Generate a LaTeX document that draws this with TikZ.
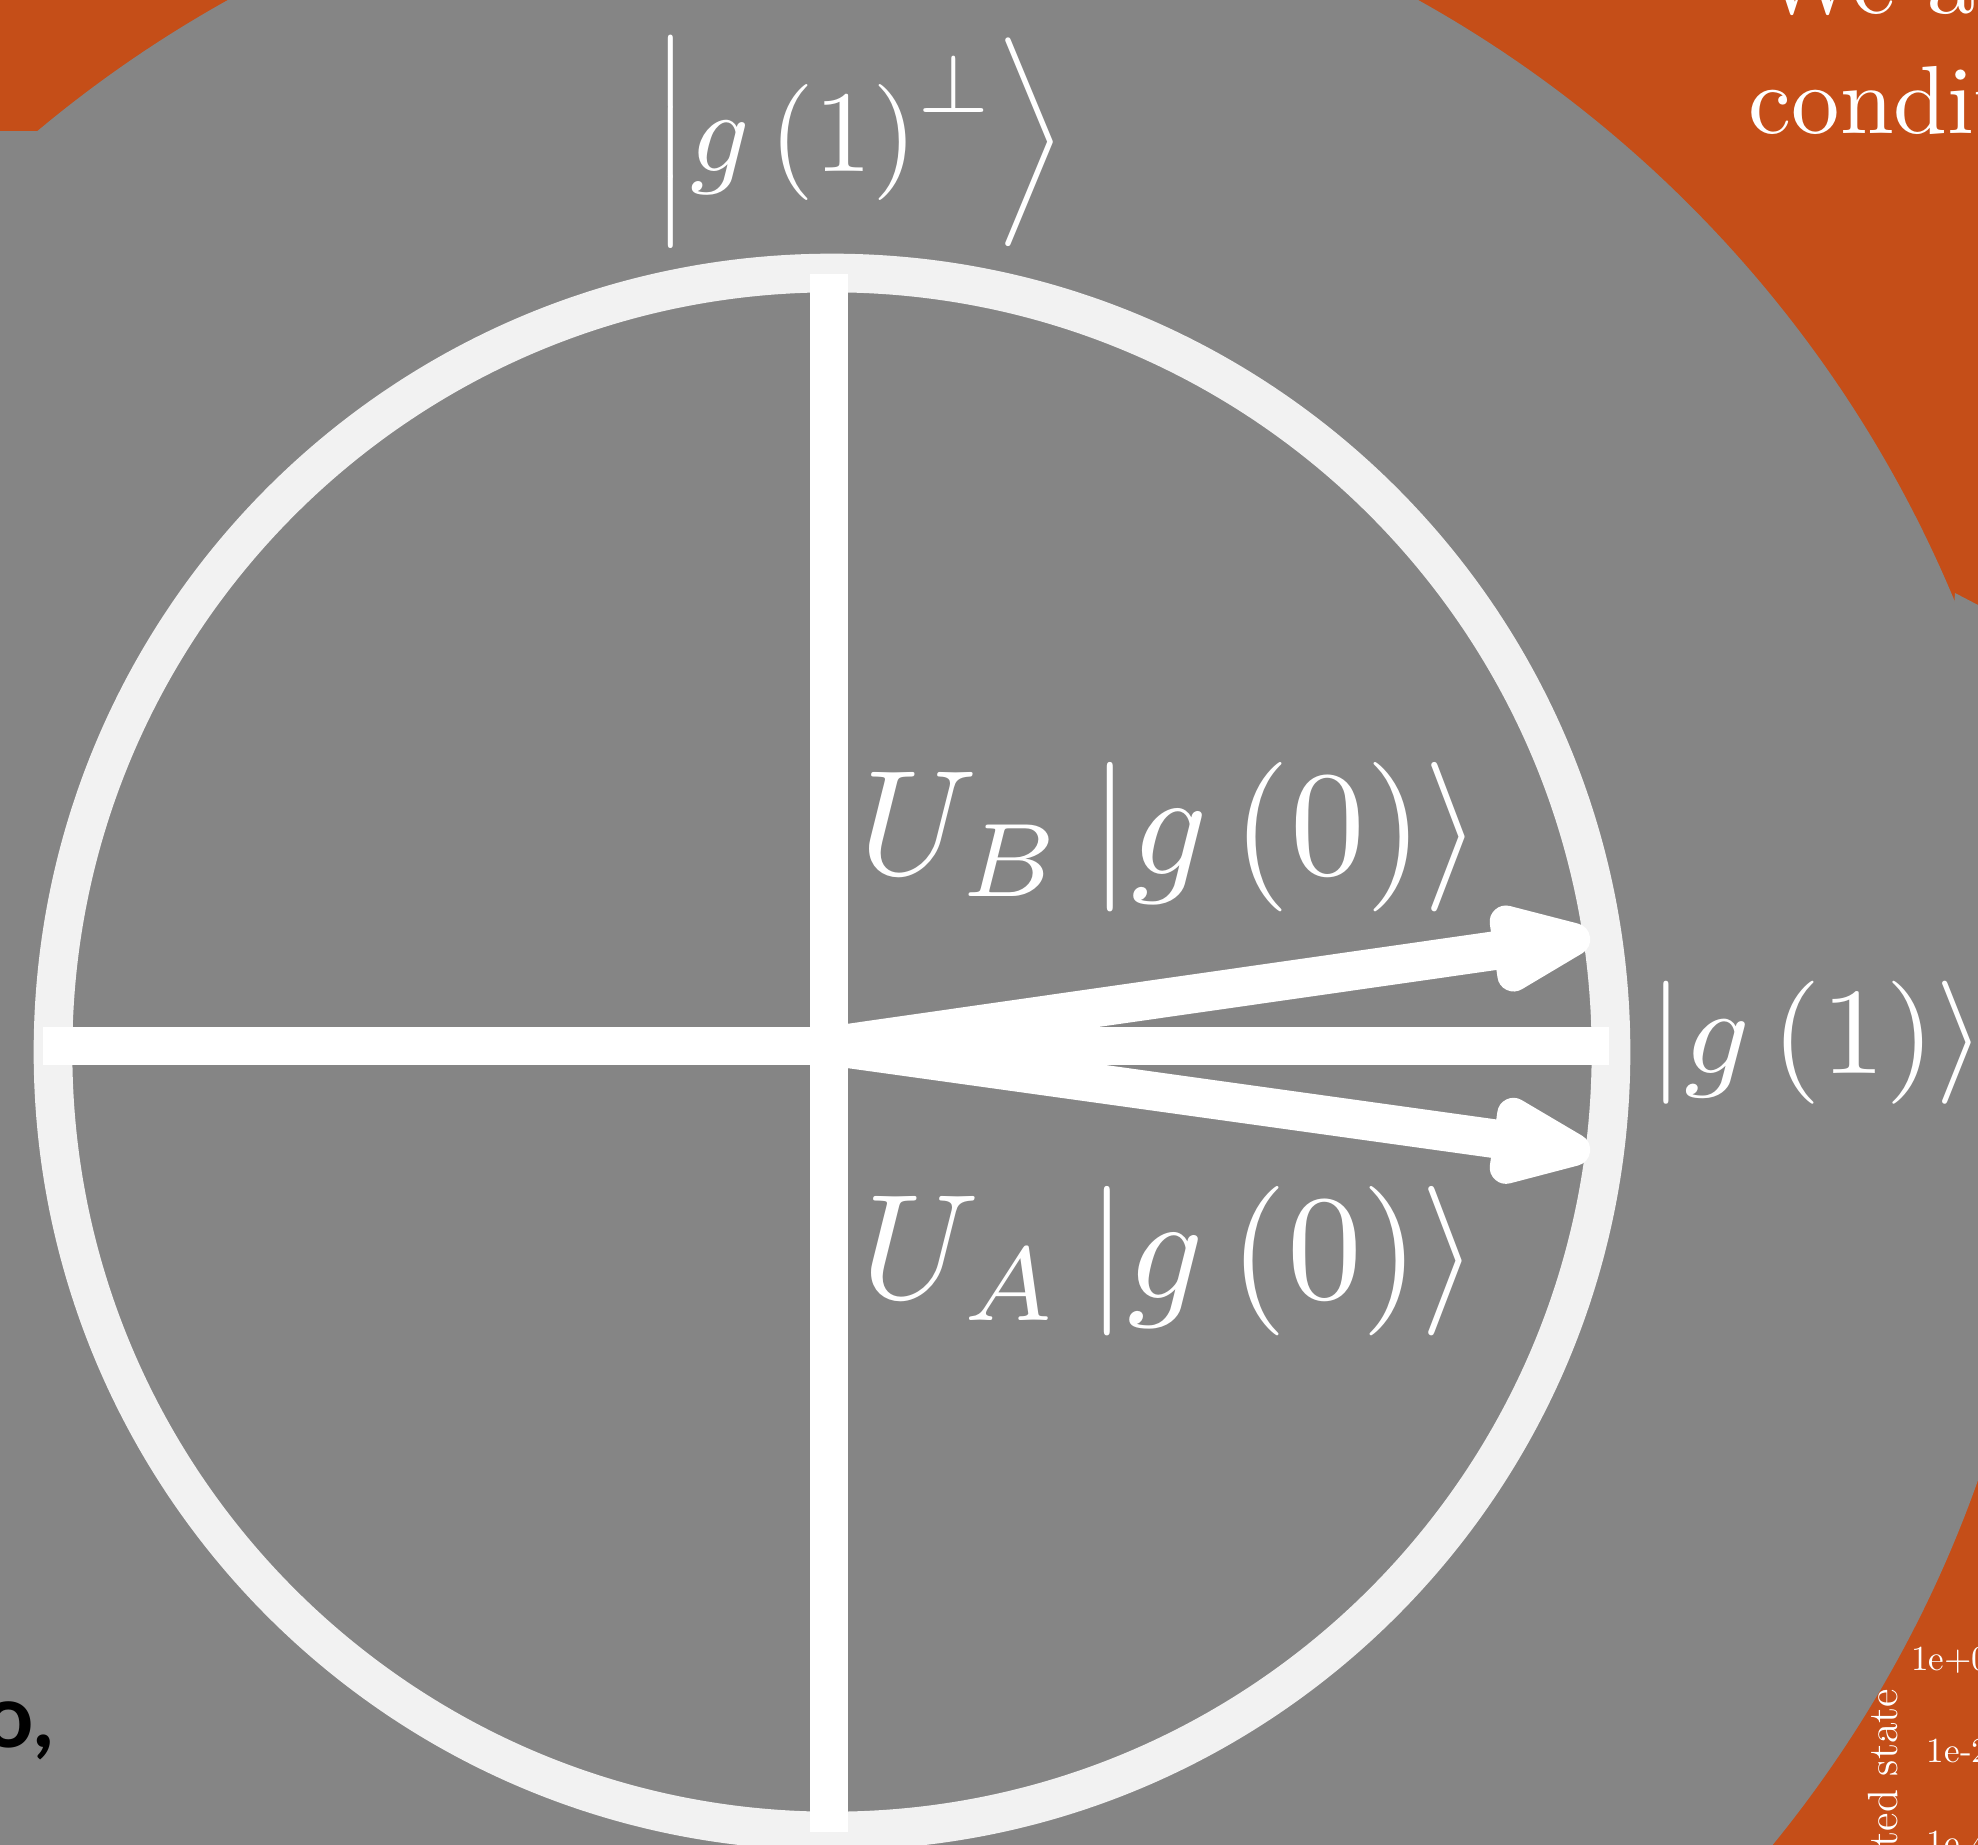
\documentclass[tikz,border=0pt]{standalone}
\usepackage{fontspec}
\newfontfamily\heavyfont{Lato}
\usetikzlibrary{arrows.meta}

\definecolor{posterorange}{HTML}{C54E18}
\definecolor{postergrey}{HTML}{858585}
\definecolor{ringgrey}{HTML}{F2F2F2}

\begin{document}
\begin{tikzpicture}[
  x=0.01cm, y=0.01cm,
  ring/.style={draw=ringgrey, line width=11pt},
  axis/.style={draw=white, line width=11pt},
  state/.style={-{Triangle[length=37pt, width=26pt, round]}, draw=white, line width=11pt},
  ket/.style={text=white, inner sep=0pt},
  poster/.style={text=white, inner sep=0pt, anchor=base west},
  tick/.style={text=white, inner sep=0pt, anchor=base east, font=\fontsize{10}{12}\selectfont}
]
\useasboundingbox (0,0) rectangle (1978,-1845);
\clip (0,0) rectangle (1978,-1845);

% backdrop of the poster
\fill[posterorange] (0,0) rectangle (1978,-1845);
\fill[postergrey] (823,-1071) circle (1225);
\fill[postergrey] (0,-131) rectangle (40,-400);
\fill[postergrey] (1955,-593) -- (1978,-605) -- (1978,-800) -- (1940,-800) -- cycle;

\node[poster] (weline) at (1760,-13) {\scalebox{2.75}{We as}};
\node[poster] (condline) at (1748,-133) {\scalebox{2.75}{condit}};

\node[text=white, inner sep=0pt, anchor=base east, rotate=90,
  font=\fontsize{12}{14}\selectfont] (ylabel) at (1897,-1688) {ted state};
\node[tick] (tick0) at (1990,-1670) {1e+0};
\node[tick] (tick2) at (1990,-1762) {1e-2};
\node[tick] (tick4) at (1990,-1854) {1e-4};

\node[text=black, inner sep=0pt, anchor=base east,
  font=\heavyfont\bfseries\fontsize{25}{30}\selectfont] (aside) at (55,-1747) {o,};

% circle and axes
\coordinate (O) at (829,-1046);
\coordinate (ringc) at (832,-1052);
\coordinate (west) at (43,-1046);
\coordinate (east) at (1609,-1046);
\coordinate (north) at (829,-274);
\coordinate (south) at (829,-1832);
\draw[ring] (ringc) circle (779);
\draw[axis] (west) -- (east);
\draw[axis] (north) -- (south);

% rotated states
\coordinate (ubtip) at (1590,-937);
\coordinate (uatip) at (1590,-1152);
\draw[state] (O) -- (ubtip);
\draw[state] (O) -- (uatip);

\node[ket] (perp) at (859,-142)
  {\scalebox{3.3}{$\Bigl|g\left(1\right)^{\perp}\Bigr\rangle$}};
\node[ket, anchor=base west] (one) at (1648,-1073)
  {\scalebox{3.65}[3.5]{$\left|g\left(1\right)\right\rangle$}};
\node[ket, anchor=base west] (ub) at (859,-874)
  {\scalebox{4.25}{$U_B\left|g\left(0\right)\right\rangle$}};
\node[ket, anchor=base west] (ua) at (861,-1298)
  {\scalebox{4.25}{$U_A\left|g\left(0\right)\right\rangle$}};

\end{tikzpicture}
\end{document}
